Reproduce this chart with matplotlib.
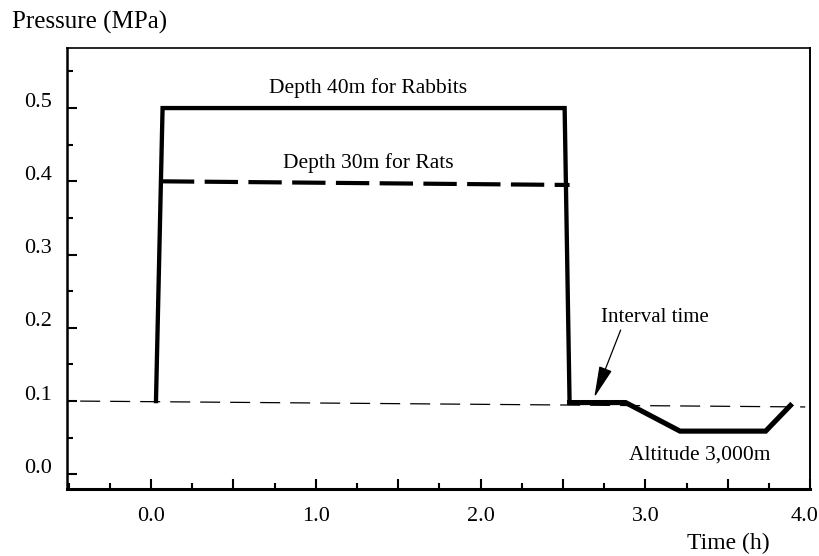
import numpy as np
import matplotlib.pyplot as plt
from matplotlib.ticker import MultipleLocator
from matplotlib.transforms import ScaledTranslation

plt.rcParams['font.family'] = ['Liberation Serif', 'DejaVu Serif']

# pressure profile (rabbits, solid), time in h, pressure in MPa
rabbit_t = [0.03, 0.07, 2.51, 2.54, 2.88, 3.21, 3.73, 3.88]
rabbit_p = [0.10, 0.50, 0.50, 0.098, 0.098, 0.059, 0.059, 0.094]

# rats, dashed plateau
rat_t = [0.06, 2.54]
rat_p = [0.40, 0.395]

# ambient reference line
base_t = [-0.43, 3.97]
base_p = [0.10, 0.092]

fig = plt.figure(figsize=(8.2, 5.56), dpi=100)
ax = fig.add_axes([0.0817, 0.1205, 0.9063, 0.7932])

ax.plot(base_t, base_p, color='black', lw=0.9, dashes=(16, 8))
ax.plot(rabbit_t[:4], rabbit_p[:4], color='black', lw=3.1, solid_joinstyle='miter')
ax.plot(rabbit_t[3:], rabbit_p[3:], color='black', lw=3.7, solid_joinstyle='miter')
ax.plot(rat_t, rat_p, color='black', lw=3.0, dashes=(8, 2.5))

ax.text(1.32, 0.527, 'Depth 40m for Rabbits', ha='center', va='center', fontsize=15.5)
ax.text(1.32, 0.425, 'Depth 30m for Rats', ha='center', va='center', fontsize=15.5)
ax.text(3.33, 0.026, 'Altitude 3,000m', ha='center', va='center', fontsize=15.5)
ax.text(3.06, 0.214, 'Interval time', ha='center', va='center', fontsize=15)
ax.annotate('', xy=(2.69, 0.105), xytext=(2.85, 0.197),
            arrowprops=dict(arrowstyle='-|>,head_length=1.4,head_width=0.3',
                            color='black', lw=0.9, mutation_scale=14,
                            shrinkA=0, shrinkB=0))

ax.set_xlim(-0.51, 4.0)
ax.set_ylim(-0.02, 0.582)
ax.xaxis.set_minor_locator(MultipleLocator(0.25))
ax.yaxis.set_minor_locator(MultipleLocator(0.05))
ax.set_xticks([0, 0.5, 1, 1.5, 2, 2.5, 3, 3.5, 4])
ax.set_xticklabels(['0.0', '', '1.0', '', '2.0', '', '3.0', '', '4.0'])
ax.set_yticks([0, 0.1, 0.2, 0.3, 0.4, 0.5])
ax.set_yticklabels(['0.0', '0.1', '0.2', '0.3', '0.4', '0.5'])
ax.tick_params(which='major', direction='in', length=7, width=1.5, labelsize=16)
ax.tick_params(which='minor', direction='in', length=4, width=1.5)
ax.tick_params(axis='y', which='major', pad=11)
ax.tick_params(axis='x', which='major', pad=13)

# y labels sit a little above their ticks in the original
for lab in ax.get_yticklabels():
    lab.set_transform(lab.get_transform() + ScaledTranslation(0, 6 / 72, fig.dpi_scale_trans))
last = ax.get_xticklabels()[-1]
last.set_horizontalalignment('right')
last.set_transform(last.get_transform() + ScaledTranslation(6 / 72, 0, fig.dpi_scale_trans))

ax.spines['left'].set_linewidth(1.8)
ax.spines['bottom'].set_linewidth(2.2)
ax.spines['top'].set_linewidth(1.2)
ax.spines['right'].set_linewidth(1.4)

fig.text(0.015, 0.96, 'Pressure (MPa)', fontsize=18, ha='left', va='center')
fig.text(0.888, 0.023, 'Time (h)', fontsize=17, ha='center', va='center')

fig.savefig('out.png', dpi=100)
